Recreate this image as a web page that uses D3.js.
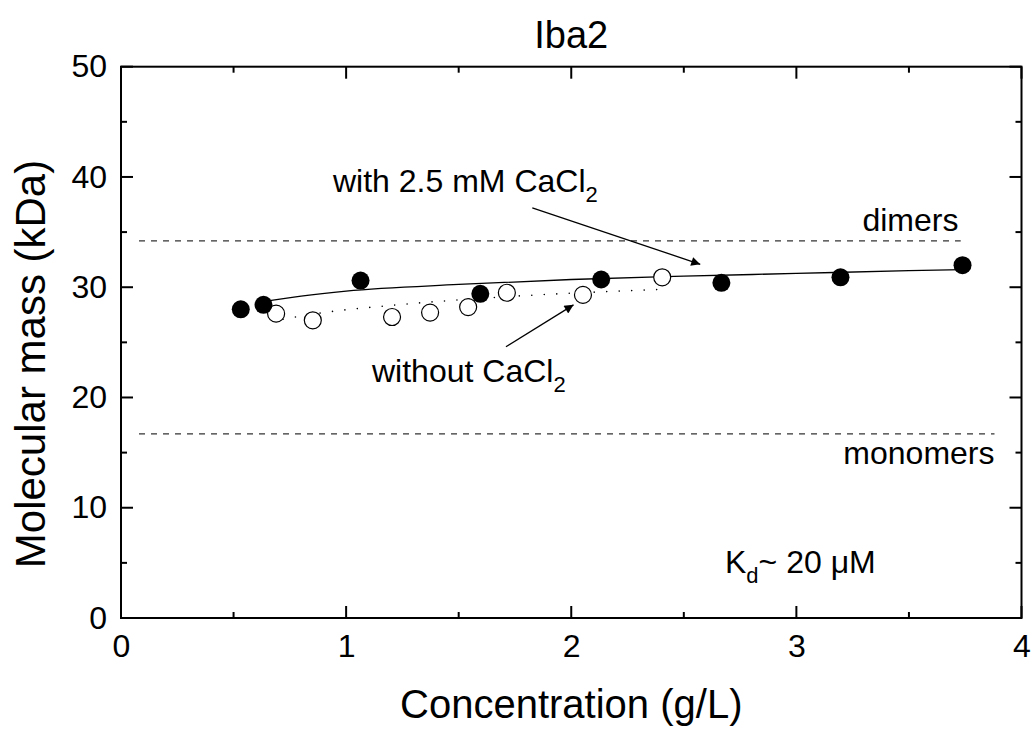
<!DOCTYPE html>
<html>
<head>
<meta charset="utf-8">
<script src="https://cdn.jsdelivr.net/npm/d3@7"></script>
<style>
  body { margin: 0; background: #fff; }
  svg text { font-family: "Liberation Sans", Arial, sans-serif; fill: #000; }
</style>
</head>
<body>
<div id="chart"></div>
<script>
var width = 1034, height = 732;
var margin = { left: 121, right: 12, top: 66.7, bottom: 114 };

// with 2.5 mM CaCl2 (filled)
var withCa = [
  [0.532, 28.0], [0.633, 28.4], [1.064, 30.6], [1.596, 29.4],
  [2.133, 30.7], [2.667, 30.4], [3.196, 30.9], [3.738, 32.0]
];
// without CaCl2 (open)
var withoutCa = [
  [0.689, 27.6], [0.852, 27.0], [1.204, 27.3], [1.373, 27.7],
  [1.542, 28.2], [1.714, 29.5], [2.052, 29.3], [2.404, 30.9]
];
// fitted curves
var fitWith = [
  [0.63, 28.7], [0.8, 29.2], [1.0, 29.65], [1.5, 30.25], [2.0, 30.7],
  [2.5, 31.0], [3.0, 31.25], [3.5, 31.5], [3.74, 31.6]
];
var fitWithout = [
  [0.72, 27.1], [0.9, 27.7], [1.2, 28.35], [1.5, 28.85],
  [1.8, 29.25], [2.1, 29.55], [2.4, 29.8]
];
var refLines = [
  { name: "dimers", value: 34.2, x0: 0.08, x1: 3.73 },
  { name: "monomers", value: 16.7, x0: 0.08, x1: 3.88 }
];
var xTicks = [0, 1, 2, 3, 4];
var yTicks = [0, 10, 20, 30, 40, 50];

var svg = d3.select("#chart").append("svg")
  .attr("width", width).attr("height", height);

var x = d3.scaleLinear().domain([0, 4]).range([margin.left, width - margin.right - 0.5]);
var y = d3.scaleLinear().domain([0, 50]).range([height - margin.bottom, margin.top]);

// reference lines
svg.append("g").selectAll("line.ref")
  .data(refLines).enter().append("line")
  .attr("x1", d => x(d.x0)).attr("x2", d => x(d.x1))
  .attr("y1", d => y(d.value)).attr("y2", d => y(d.value))
  .attr("stroke", "#333").attr("stroke-width", 1.2)
  .attr("stroke-dasharray", "6,6");

svg.append("text").attr("x", x(3.72)).attr("y", y(34.2) - 10)
  .attr("text-anchor", "end").attr("font-size", 32).text("dimers");
svg.append("text").attr("x", x(3.88)).attr("y", y(16.7) + 30)
  .attr("text-anchor", "end").attr("font-size", 32).text("monomers");

// fit lines
var line = d3.line().x(d => x(d[0])).y(d => y(d[1])).curve(d3.curveMonotoneX);
svg.append("path").datum(fitWith).attr("d", line)
  .attr("fill", "none").attr("stroke", "#000").attr("stroke-width", 1.3);
svg.append("path").datum(fitWithout).attr("d", line)
  .attr("fill", "none").attr("stroke", "#000").attr("stroke-width", 1.6)
  .attr("stroke-linecap", "round")
  .attr("stroke-dasharray", "0,12.5");

// points
svg.append("g").selectAll("circle")
  .data(withoutCa).enter().append("circle")
  .attr("cx", d => x(d[0])).attr("cy", d => y(d[1])).attr("r", 8.5)
  .attr("fill", "#fff").attr("stroke", "#000").attr("stroke-width", 1.2);
svg.append("g").selectAll("circle")
  .data(withCa).enter().append("circle")
  .attr("cx", d => x(d[0])).attr("cy", d => y(d[1])).attr("r", 9)
  .attr("fill", "#000");

// arrows
svg.append("defs").append("marker")
  .attr("id", "arrow").attr("viewBox", "0 0 10 10")
  .attr("refX", 10).attr("refY", 5)
  .attr("markerWidth", 17).attr("markerHeight", 9)
  .attr("markerUnits", "userSpaceOnUse")
  .attr("orient", "auto")
  .append("path").attr("d", "M0,0L10,5L0,10Z").attr("fill", "#000");

var arrows = [
  { from: [1.827, 37.2], to: [2.573, 32.08] },
  { from: [1.71, 24.6], to: [2.01, 28.4] }
];
svg.append("g").selectAll("line.arrow")
  .data(arrows).enter().append("line")
  .attr("x1", d => x(d.from[0])).attr("y1", d => y(d.from[1]))
  .attr("x2", d => x(d.to[0])).attr("y2", d => y(d.to[1]))
  .attr("stroke", "#000").attr("stroke-width", 1.3)
  .attr("marker-end", "url(#arrow)");

// annotations
var t1 = svg.append("text").attr("x", 333).attr("y", 192).attr("font-size", 32);
t1.append("tspan").text("with 2.5 mM CaCl");
t1.append("tspan").attr("dy", 10).attr("font-size", 22).text("2");

var t2 = svg.append("text").attr("x", 372).attr("y", 382).attr("font-size", 32);
t2.append("tspan").text("without CaCl");
t2.append("tspan").attr("dy", 10).attr("font-size", 22).text("2");

var t3 = svg.append("text").attr("x", 725).attr("y", 573).attr("font-size", 32);
t3.append("tspan").text("K");
t3.append("tspan").attr("dy", 10).attr("font-size", 22).text("d");
t3.append("tspan").attr("dy", -10).text("~ 20 \u03bcM");

// axes
var bottom = svg.append("g").attr("transform", "translate(0," + y(0) + ")")
  .call(d3.axisBottom(x).tickValues(xTicks).tickSize(0).tickPadding(16).tickFormat(d3.format("d")));
var left = svg.append("g").attr("transform", "translate(" + x(0) + ",0)")
  .call(d3.axisLeft(y).tickValues(yTicks).tickSize(0).tickPadding(14).tickFormat(d3.format("d")));
[bottom, left].forEach(g => {
  g.select(".domain").remove();
  g.selectAll("text").attr("font-size", 32).attr("font-family", "Liberation Sans, Arial, sans-serif");
});

// frame with inward ticks
var frame = svg.append("g").attr("stroke", "#000").attr("stroke-width", 2);
frame.append("rect")
  .attr("x", x(0)).attr("y", y(50))
  .attr("width", x(4) - x(0)).attr("height", y(0) - y(50))
  .attr("fill", "none");

var xMinor = d3.range(0.5, 4, 1), yMinor = d3.range(5, 50, 10);
function xTick(v, len) {
  frame.append("line").attr("x1", x(v)).attr("x2", x(v)).attr("y1", y(0)).attr("y2", y(0) - len);
  frame.append("line").attr("x1", x(v)).attr("x2", x(v)).attr("y1", y(50)).attr("y2", y(50) + len);
}
function yTick(v, len) {
  frame.append("line").attr("y1", y(v)).attr("y2", y(v)).attr("x1", x(0)).attr("x2", x(0) + len);
  frame.append("line").attr("y1", y(v)).attr("y2", y(v)).attr("x1", x(4)).attr("x2", x(4) - len);
}
xTicks.forEach(v => xTick(v, 12));
xMinor.forEach(v => xTick(v, 6));
yTicks.forEach(v => yTick(v, 12));
yMinor.forEach(v => yTick(v, 6));

// titles
svg.append("text").attr("x", (x(0) + x(4)) / 2).attr("y", 48)
  .attr("text-anchor", "middle").attr("font-size", 38).text("Iba2");
svg.append("text").attr("x", (x(0) + x(4)) / 2).attr("y", 718)
  .attr("text-anchor", "middle").attr("font-size", 40).text("Concentration (g/L)");
svg.append("text")
  .attr("transform", "translate(45,364)rotate(-90)")
  .attr("text-anchor", "middle").attr("font-size", 42).text("Molecular mass (kDa)");
</script>
</body>
</html>
